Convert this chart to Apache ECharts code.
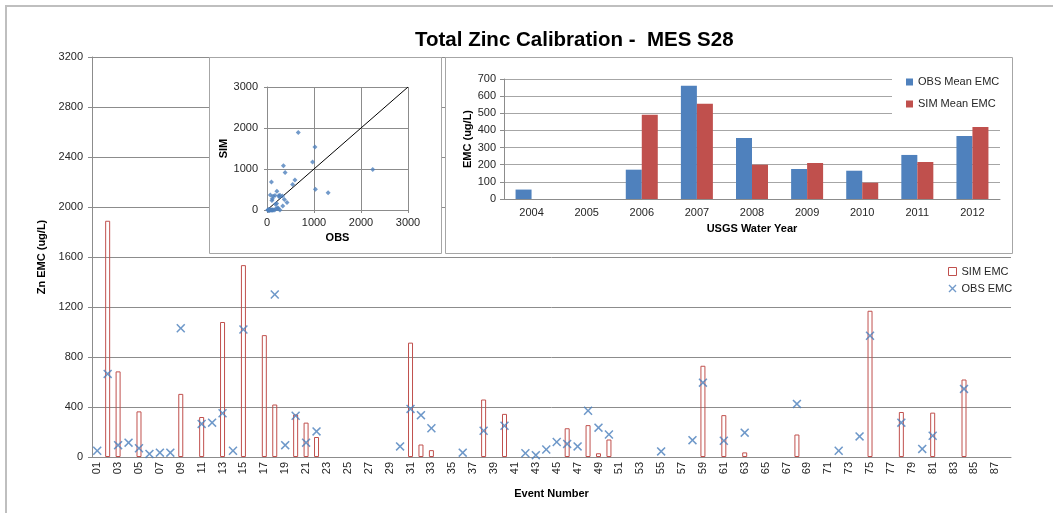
<!DOCTYPE html>
<html>
<head>
<meta charset="utf-8">
<script src="https://cdn.jsdelivr.net/npm/echarts@6/dist/echarts.min.js"></script>
<style>
html,body{margin:0;padding:0;background:#fff;}
#chart{width:1063px;height:513px;}
</style>
</head>
<body>
<div id="chart"></div>
<script>
// ---- Main chart data (events 01..88) ----
const eventLabels = Array.from({length: 88}, (_, i) => String(i + 1).padStart(2, '0'));
const simEMC = [
  null, 1890, 685, null, 365, null, null, null, 505, null,
  320, null, 1080, null, 1535, null, 975, 420, null, 340,
  275, 160, null, null, null, null, null, null, null, null,
  915, 100, 55, null, null, null, null, 460, null, 345,
  null, null, null, null, null, 230, null, 255, 30, 140,
  null, null, null, null, null, null, null, null, 730, null,
  335, null, 37, null, null, null, null, 180, null, null,
  null, null, null, null, 1170, null, null, 360, null, null,
  355, null, null, 620, null, null, null, null
];
const obsEMC = [
  50, 665, 95, 115, 70, 25, 35, 35, 1030, null,
  265, 275, 350, 50, 1020, null, null, 1300, 95, 330,
  115, 205, null, null, null, null, null, null, null, 85,
  385, 335, 230, null, null, 35, null, 210, null, 250,
  null, 30, 15, 60, 120, 105, 85, 370, 235, 180,
  null, null, null, null, 45, null, null, 135, 595, null,
  130, null, 195, null, null, null, null, 425, null, null,
  null, 50, null, 165, 970, null, null, 275, null, 65,
  170, null, null, 545, null, null, null, null
];
// ---- Scatter inset: extra point not shown in the main series ----
const scatterExtraObs = [2250];
const scatterExtraSim = [990];
// ---- Water-year inset ----
const waterYears = ['2004','2005','2006','2007','2008','2009','2010','2011','2012'];
const obsMeanEMC = [55, null, 171, 661, 356, 175, 165, 257, 367];
const simMeanEMC = [null, null, 492, 556, 200, 210, 95, 216, 420];

const FONT = 'Liberation Sans';
const BLUE = '#4F81BD', RED = '#C0504D', GRID = '#8C8C8C', TXT = '#262626';
const XPATH = 'path://M0,1.2L1.2,0L5,3.8L8.8,0L10,1.2L6.2,5L10,8.8L8.8,10L5,6.2L1.2,10L0,8.8L3.8,5Z';

const obsPoints = [];
obsEMC.forEach((v, i) => { if (v != null) obsPoints.push([i, v]); });
const scatterPts = [];
obsEMC.forEach((v, i) => { if (v != null) scatterPts.push([v, simEMC[i] == null ? 0 : simEMC[i]]); });
scatterExtraObs.forEach((v, i) => scatterPts.push([v, scatterExtraSim[i]]));

const plain = v => String(v);
const lbl = {fontFamily: FONT, fontSize: 11, color: TXT};
const nameBold = {fontFamily: FONT, fontSize: 11, fontWeight: 'bold', color: '#000'};

const chart = echarts.init(document.getElementById('chart'), null, {renderer: 'canvas'});
chart.setOption({
  animation: false,
  backgroundColor: '#fff',
  title: {
    text: 'Total Zinc Calibration -  MES S28',
    left: 410, top: 25,
    textStyle: {fontFamily: FONT, fontSize: 20.5, fontWeight: 'bold', color: '#000'}
  },
  graphic: [
    {type: 'polyline', z: 0, shape: {points: [[6, 600], [6, 6], [1053, 6]]}, style: {fill: 'none', stroke: '#BFBFBF', lineWidth: 2}},
    {type: 'rect', z: 1, shape: {x: 209.5, y: 57.5, width: 232, height: 196}, style: {fill: '#fff', stroke: '#A6A6A6', lineWidth: 1}},
    {type: 'rect', z: 1, shape: {x: 445.5, y: 57.5, width: 567, height: 196}, style: {fill: '#fff', stroke: '#A6A6A6', lineWidth: 1}}
  ],
  legend: [
    {
      z: 5, orient: 'vertical', left: 948, top: 266, itemGap: 6, itemWidth: 8, itemHeight: 8,
      textStyle: {fontFamily: FONT, fontSize: 11, color: TXT}, padding: [0, 0, 0, 0],
      data: [
        {name: 'SIM EMC', icon: 'rect', itemStyle: {color: '#fff', borderColor: RED, borderWidth: 1}},
        {name: 'OBS EMC', icon: XPATH, itemStyle: {color: BLUE, borderWidth: 0}}
      ]
    },
    {
      z: 5, orient: 'vertical', left: 892, top: 72, itemGap: 11, itemWidth: 7, itemHeight: 7,
      backgroundColor: '#fff', padding: [4.5, 12, 10, 14],
      textStyle: {fontFamily: FONT, fontSize: 11, color: TXT},
      data: [
        {name: 'OBS Mean EMC', icon: 'rect'},
        {name: 'SIM Mean EMC', icon: 'rect'}
      ]
    }
  ],
  grid: [
    {left: 92, right: 52, top: 57, bottom: 56},
    {left: 267, top: 87, width: 141, height: 123},
    {left: 504, top: 79, width: 496, height: 120}
  ],
  xAxis: [
    {
      gridIndex: 0, type: 'category', data: eventLabels, boundaryGap: true, z: 0,
      name: 'Event Number', nameLocation: 'middle', nameGap: 31, nameTextStyle: nameBold,
      axisLine: {lineStyle: {color: GRID}},
      axisTick: {interval: 0, length: 5, lineStyle: {color: GRID}},
      axisLabel: Object.assign({interval: 1, rotate: 90, margin: 5}, lbl),
      splitLine: {show: false}
    },
    {
      gridIndex: 1, type: 'value', min: 0, max: 3000, interval: 1000, z: 2,
      name: 'OBS', nameLocation: 'middle', nameGap: 22, nameTextStyle: nameBold,
      axisLine: {show: true, lineStyle: {color: GRID}},
      axisTick: {show: true, length: 3, lineStyle: {color: GRID}},
      axisLabel: Object.assign({margin: 7, formatter: plain}, lbl),
      splitLine: {show: true, lineStyle: {color: GRID}}
    },
    {
      gridIndex: 2, type: 'category', data: waterYears, boundaryGap: true, z: 2,
      name: 'USGS Water Year', nameLocation: 'middle', nameGap: 24, nameTextStyle: nameBold,
      axisLine: {lineStyle: {color: GRID}},
      axisTick: {interval: 0, length: 4, lineStyle: {color: GRID}},
      axisLabel: Object.assign({interval: 0, margin: 8}, lbl)
    }
  ],
  yAxis: [
    {
      gridIndex: 0, type: 'value', min: 0, max: 3200, interval: 400, z: 0,
      name: 'Zn EMC (ug/L)', nameLocation: 'middle', nameGap: 45, nameTextStyle: nameBold,
      axisLine: {show: true, lineStyle: {color: GRID}},
      axisTick: {show: true, length: 4, lineStyle: {color: GRID}},
      axisLabel: Object.assign({margin: 9, formatter: plain}, lbl),
      splitLine: {lineStyle: {color: GRID}}
    },
    {
      gridIndex: 1, type: 'value', min: 0, max: 3000, interval: 1000, z: 2,
      name: 'SIM', nameLocation: 'middle', nameGap: 36, nameTextStyle: nameBold,
      axisLine: {show: true, lineStyle: {color: GRID}},
      axisTick: {show: true, length: 3, lineStyle: {color: GRID}},
      axisLabel: Object.assign({margin: 9, formatter: plain}, lbl),
      splitLine: {lineStyle: {color: GRID}}
    },
    {
      gridIndex: 2, type: 'value', min: 0, max: 700, interval: 100, z: 2,
      name: 'EMC (ug/L)', nameLocation: 'middle', nameGap: 30, nameTextStyle: nameBold,
      axisLine: {show: true, lineStyle: {color: GRID}},
      axisTick: {show: true, length: 4, lineStyle: {color: GRID}},
      axisLabel: Object.assign({margin: 8, formatter: plain}, lbl),
      splitLine: {lineStyle: {color: '#A6A6A6'}}
    }
  ],
  series: [
    {
      name: 'SIM EMC', type: 'bar', xAxisIndex: 0, yAxisIndex: 0, data: simEMC,
      barWidth: 5, z: 2,
      itemStyle: {color: 'rgba(255,255,255,0)', borderColor: RED, borderWidth: 1}
    },
    {
      name: 'OBS EMC', type: 'scatter', xAxisIndex: 0, yAxisIndex: 0, data: obsPoints,
      symbol: XPATH, symbolSize: 9, z: 3,
      itemStyle: {color: '#4A7EBB'}
    },
    {
      name: 'scatterPts', type: 'scatter', xAxisIndex: 1, yAxisIndex: 1, data: scatterPts,
      symbol: 'diamond', symbolSize: 5, z: 4, itemStyle: {color: BLUE}
    },
    {
      name: 'oneToOne', type: 'line', xAxisIndex: 1, yAxisIndex: 1,
      data: [[0, 0], [3000, 3000]], showSymbol: false, symbol: 'none', z: 3,
      lineStyle: {color: '#000', width: 1}
    },
    {
      name: 'OBS Mean EMC', type: 'bar', xAxisIndex: 2, yAxisIndex: 2, data: obsMeanEMC,
      barWidth: 16, barGap: '0%', z: 3, itemStyle: {color: BLUE}
    },
    {
      name: 'SIM Mean EMC', type: 'bar', xAxisIndex: 2, yAxisIndex: 2, data: simMeanEMC,
      barWidth: 16, barGap: '0%', z: 3, itemStyle: {color: RED}
    }
  ]
});
</script>
</body>
</html>
